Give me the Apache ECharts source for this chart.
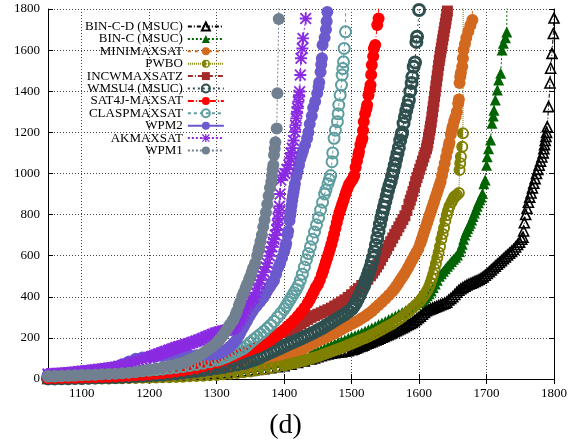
<!DOCTYPE html>
<html>
<head>
<meta charset="utf-8">
<script src="https://cdn.jsdelivr.net/npm/echarts@6/dist/echarts.min.js"></script>
<style>
  html, body { margin: 0; padding: 0; background: #fff; }
  #chart { width: 571px; height: 447px; }
</style>
</head>
<body>
<div id="chart"></div>
<script>
// tick values
var xTicks = [1100, 1200, 1300, 1400, 1500, 1600, 1700, 1800];

var names = ['BIN-C-D (MSUC)', 'BIN-C (MSUC)', 'MINIMAXSAT', 'PWBO', 'INCWMAXSATZ',
    'WMSU4 (MSUC)', 'SAT4J-MAXSAT', 'CLASPMAXSAT', 'WPM2', 'AKMAXSAT', 'WPM1'];

// [instances solved, time]
var binCD = [[1050,3],[1060,3],[1070,4],[1080,4],[1090,5],[1100,5],[1110,6],[1120,6],[1130,7],[1140,7],[1150,8],[1160,9],[1170,10],[1180,10],[1190,11],[1200,12],[1210,13],[1220,14],[1230,15],[1240,17],[1250,18],[1260,20],[1270,22],[1280,24],[1290,26],[1300,28],[1310,30],[1320,33],[1330,36],[1340,39],[1350,42],[1360,46],[1370,50],[1380,55],[1390,60],[1400,65],[1410,72],[1420,80],[1430,88],[1440,98],[1445,103],[1450,108],[1455,113],[1460,118],[1465,122],[1470,125],[1475,128],[1480,130],[1485,132],[1490,135],[1495,138],[1500,142],[1503,145],[1506,150],[1509,154],[1512,158],[1515,161],[1518,165],[1521,170],[1524,174],[1527,178],[1530,182],[1533,186],[1536,190],[1539,194],[1542,199],[1545,203],[1548,207],[1551,212],[1554,216],[1557,220],[1560,225],[1563,230],[1566,235],[1569,240],[1572,245],[1575,250],[1578,255],[1581,260],[1584,265],[1587,270],[1590,275],[1593,283],[1596,290],[1599,298],[1602,306],[1605,315],[1608,324],[1611,332],[1614,337],[1617,341],[1620,345],[1623,349],[1626,353],[1629,357],[1632,361],[1635,365],[1638,369],[1641,374],[1644,384],[1647,392],[1650,400],[1653,411],[1656,422],[1659,432],[1662,439],[1665,445],[1668,451],[1671,457],[1674,462],[1677,466],[1680,470],[1683,475],[1686,479],[1689,484],[1692,490],[1695,497],[1698,505],[1701,513],[1704,522],[1707,531],[1710,540],[1713,549],[1716,558],[1719,567],[1722,576],[1725,585],[1728,594],[1731,603],[1734,612],[1737,621],[1740,630],[1743,642],[1746,654],[1749,666],[1752,680],[1754,690],[1755,720],[1756,760],[1758,800],[1760,830],[1762,860],[1764,885],[1766,905],[1768,930],[1770,952],[1772,975],[1774,1000],[1776,1020],[1778,1040],[1780,1060],[1782,1080],[1784,1100],[1785,1120],[1786,1140],[1787,1160],[1788,1180],[1789,1200],[1790,1227],[1792,1325],[1794,1440],[1795,1512],[1797,1584],[1799,1681],[1800,1756],[1801,2600]];
var binC = [[1050,4],[1060,4],[1070,5],[1080,5],[1090,6],[1100,6],[1110,7],[1120,7],[1130,8],[1140,9],[1150,10],[1160,11],[1170,12],[1180,13],[1190,14],[1200,15],[1210,16],[1220,18],[1230,19],[1240,21],[1250,23],[1260,25],[1270,27],[1280,30],[1290,33],[1300,36],[1310,39],[1320,43],[1330,47],[1340,51],[1350,56],[1360,61],[1370,67],[1380,73],[1390,80],[1400,88],[1410,96],[1420,105],[1430,115],[1440,125],[1445,130],[1450,135],[1455,142],[1460,150],[1465,157],[1470,165],[1475,172],[1480,178],[1485,184],[1490,190],[1495,198],[1500,205],[1505,211],[1510,218],[1515,225],[1520,232],[1525,240],[1530,248],[1535,256],[1540,265],[1545,272],[1550,280],[1555,289],[1560,298],[1565,306],[1570,315],[1575,323],[1580,332],[1585,341],[1590,350],[1595,361],[1600,372],[1603,380],[1606,388],[1609,396],[1612,405],[1615,415],[1618,428],[1621,445],[1624,462],[1627,480],[1630,500],[1633,512],[1636,524],[1639,536],[1642,548],[1645,560],[1648,572],[1651,583],[1654,592],[1657,603],[1660,620],[1662,637],[1664,656],[1666,680],[1668,700],[1670,718],[1672,732],[1674,745],[1676,758],[1678,773],[1680,790],[1682,807],[1684,823],[1686,840],[1688,857],[1690,872],[1692,885],[1694,903],[1696,950],[1698,968],[1700,1040],[1701,1081],[1703,1120],[1706,1163],[1708,1244],[1710,1280],[1711,1308],[1713,1357],[1716,1406],[1718,1454],[1721,1487],[1723,1600],[1725,1633],[1728,1660],[1730,1688],[1731,2600]];
var minimax = [[1050,2],[1060,2],[1070,3],[1080,3],[1090,4],[1100,4],[1110,5],[1120,5],[1130,6],[1140,7],[1150,8],[1160,9],[1170,10],[1180,11],[1190,12],[1200,13],[1210,15],[1220,17],[1230,19],[1240,21],[1250,23],[1260,26],[1270,29],[1280,32],[1290,36],[1300,40],[1310,44],[1320,48],[1330,53],[1340,58],[1350,63],[1360,69],[1370,76],[1380,84],[1385,89],[1390,95],[1395,101],[1400,108],[1405,114],[1410,120],[1415,127],[1420,135],[1425,142],[1430,150],[1435,159],[1440,168],[1445,176],[1450,185],[1455,192],[1460,200],[1465,207],[1470,215],[1475,223],[1480,232],[1485,241],[1490,250],[1495,259],[1500,268],[1505,276],[1510,285],[1515,295],[1520,305],[1525,317],[1530,330],[1535,345],[1540,360],[1545,375],[1550,390],[1555,407],[1560,425],[1563,437],[1566,450],[1569,465],[1572,480],[1575,495],[1578,510],[1581,526],[1584,544],[1587,562],[1590,580],[1593,598],[1596,616],[1599,634],[1602,660],[1604,680],[1606,700],[1608,720],[1610,740],[1612,760],[1614,780],[1616,800],[1618,820],[1620,840],[1622,860],[1624,880],[1626,900],[1628,920],[1630,940],[1632,960],[1634,990],[1636,1020],[1638,1050],[1640,1080],[1642,1110],[1644,1135],[1645,1150],[1647,1190],[1649,1215],[1650,1230],[1652,1255],[1654,1275],[1656,1300],[1658,1340],[1659,1360],[1660,1440],[1661,1470],[1662,1490],[1664,1520],[1665,1560],[1666,1600],[1668,1630],[1670,1660],[1673,1690],[1676,1720],[1679,1746],[1680,2600]];
var pwbo = [[1050,1],[1060,1],[1070,1],[1080,2],[1090,2],[1100,2],[1110,2],[1120,3],[1130,3],[1140,3],[1150,4],[1160,4],[1170,5],[1180,5],[1190,6],[1200,6],[1210,7],[1220,8],[1230,9],[1240,10],[1250,11],[1260,13],[1270,14],[1280,16],[1290,18],[1300,20],[1310,23],[1320,26],[1330,29],[1340,33],[1350,37],[1360,42],[1370,47],[1380,53],[1390,59],[1400,66],[1405,70],[1410,74],[1415,78],[1420,82],[1425,86],[1430,90],[1435,95],[1440,100],[1445,105],[1450,110],[1455,116],[1460,122],[1465,128],[1470,134],[1475,140],[1480,146],[1485,152],[1490,158],[1495,165],[1500,172],[1505,179],[1510,186],[1515,193],[1520,200],[1525,207],[1530,215],[1535,223],[1540,232],[1545,241],[1550,250],[1555,259],[1560,268],[1565,279],[1570,290],[1575,302],[1580,315],[1585,330],[1590,345],[1595,360],[1600,375],[1603,387],[1606,400],[1609,414],[1612,430],[1615,450],[1617,468],[1619,488],[1621,510],[1623,535],[1625,562],[1627,590],[1629,615],[1631,645],[1633,680],[1635,705],[1637,735],[1639,770],[1641,797],[1643,820],[1645,840],[1648,860],[1650,872],[1652,885],[1654,890],[1656,895],[1659,905],[1660,1017],[1661,1050],[1662,1081],[1664,1130],[1665,1195],[1666,2600]];
var incw = [[1050,3],[1060,3],[1070,4],[1080,4],[1090,5],[1100,5],[1110,6],[1120,7],[1130,8],[1140,9],[1150,10],[1160,11],[1170,12],[1180,14],[1190,16],[1200,18],[1210,20],[1220,23],[1230,26],[1240,29],[1250,33],[1260,37],[1270,42],[1280,47],[1290,51],[1300,55],[1310,65],[1320,75],[1330,90],[1340,105],[1350,125],[1360,145],[1370,165],[1380,185],[1390,205],[1400,225],[1405,234],[1410,243],[1415,250],[1420,258],[1425,269],[1430,280],[1435,290],[1440,300],[1445,308],[1450,315],[1455,322],[1460,330],[1465,337],[1470,345],[1475,355],[1480,365],[1485,375],[1490,385],[1495,397],[1500,410],[1505,425],[1510,440],[1515,455],[1520,470],[1524,486],[1528,502],[1531,515],[1534,530],[1537,545],[1540,560],[1543,578],[1546,596],[1549,614],[1552,632],[1555,650],[1558,668],[1561,686],[1564,704],[1567,722],[1570,740],[1573,758],[1576,776],[1579,794],[1582,820],[1585,850],[1587,870],[1589,890],[1591,912],[1593,935],[1595,960],[1597,980],[1599,1000],[1601,1020],[1603,1040],[1605,1060],[1607,1080],[1609,1100],[1611,1120],[1612,1135],[1613,1150],[1614,1170],[1615,1190],[1616,1210],[1617,1230],[1618,1250],[1619,1275],[1620,1300],[1621,1325],[1622,1350],[1623,1375],[1624,1400],[1625,1425],[1626,1450],[1627,1475],[1628,1500],[1629,1525],[1630,1550],[1631,1570],[1632,1590],[1633,1610],[1634,1630],[1635,1650],[1636,1670],[1637,1690],[1638,1710],[1639,1730],[1640,1750],[1641,1770],[1642,1790],[1643,1810],[1644,1830]];
var wmsu4 = [[1050,3],[1060,3],[1070,4],[1080,4],[1090,5],[1100,5],[1110,6],[1120,7],[1130,8],[1140,9],[1150,10],[1160,11],[1170,12],[1180,14],[1190,16],[1200,18],[1210,20],[1220,22],[1230,25],[1240,28],[1250,31],[1260,35],[1270,39],[1280,43],[1290,48],[1300,53],[1310,58],[1320,64],[1330,70],[1340,77],[1345,82],[1350,88],[1355,94],[1360,100],[1365,107],[1370,115],[1375,122],[1380,130],[1385,137],[1390,145],[1395,152],[1400,160],[1405,167],[1410,175],[1415,182],[1420,190],[1425,197],[1430,205],[1435,212],[1440,220],[1445,228],[1450,237],[1455,246],[1460,255],[1465,265],[1470,275],[1475,285],[1480,295],[1485,305],[1490,315],[1495,327],[1500,340],[1503,354],[1506,370],[1509,388],[1512,408],[1515,430],[1518,450],[1520,470],[1522,487],[1524,505],[1526,525],[1528,545],[1530,568],[1532,592],[1534,620],[1536,652],[1538,686],[1540,720],[1542,753],[1544,783],[1546,810],[1548,837],[1550,863],[1552,890],[1554,917],[1556,940],[1558,960],[1560,987],[1562,1013],[1564,1040],[1566,1070],[1568,1097],[1570,1125],[1572,1160],[1574,1187],[1575,1200],[1577,1244],[1579,1275],[1581,1305],[1583,1330],[1585,1357],[1587,1400],[1589,1440],[1590,1470],[1592,1519],[1594,1540],[1596,1640],[1597,1665],[1600,1795],[1601,2600]];
var sat4j = [[1050,4],[1060,5],[1070,5],[1080,6],[1090,6],[1100,7],[1110,8],[1120,9],[1130,10],[1140,11],[1150,12],[1160,14],[1170,16],[1180,18],[1190,20],[1200,22],[1210,25],[1220,28],[1230,32],[1240,36],[1250,41],[1260,47],[1270,54],[1280,62],[1290,71],[1300,82],[1305,87],[1310,93],[1315,99],[1320,105],[1325,111],[1330,118],[1335,124],[1340,130],[1345,136],[1350,142],[1355,148],[1360,155],[1365,162],[1370,170],[1375,180],[1380,190],[1385,202],[1390,215],[1395,227],[1400,240],[1405,255],[1410,270],[1415,287],[1420,305],[1425,325],[1430,345],[1435,370],[1438,385],[1441,405],[1444,425],[1447,445],[1450,460],[1453,482],[1456,508],[1458,528],[1460,550],[1462,570],[1464,590],[1466,610],[1468,632],[1470,655],[1472,680],[1474,705],[1476,733],[1478,760],[1480,787],[1482,810],[1484,830],[1486,850],[1488,870],[1490,890],[1492,910],[1494,928],[1496,945],[1498,955],[1500,965],[1502,975],[1504,990],[1506,1030],[1508,1060],[1510,1090],[1511,1106],[1513,1140],[1515,1160],[1516,1171],[1517,1210],[1518,1252],[1520,1290],[1522,1315],[1523,1333],[1525,1380],[1527,1410],[1528,1430],[1529,1480],[1530,1527],[1532,1570],[1533,1608],[1535,1625],[1538,1722],[1540,1754],[1541,2600]];
var clasp = [[1050,14],[1060,15],[1070,16],[1080,18],[1090,19],[1100,21],[1110,23],[1120,24],[1130,26],[1140,28],[1150,30],[1160,32],[1170,34],[1180,37],[1190,40],[1200,43],[1210,46],[1220,49],[1230,53],[1240,57],[1250,61],[1260,66],[1270,71],[1280,77],[1290,84],[1300,92],[1305,97],[1310,103],[1315,109],[1320,117],[1325,125],[1330,133],[1335,141],[1340,150],[1345,162],[1350,178],[1355,192],[1360,205],[1365,218],[1370,232],[1375,247],[1380,262],[1385,280],[1390,300],[1395,320],[1400,340],[1403,356],[1406,372],[1409,388],[1412,404],[1415,420],[1418,436],[1421,455],[1424,480],[1427,510],[1430,545],[1433,580],[1436,610],[1439,643],[1442,680],[1445,715],[1448,750],[1451,785],[1454,822],[1457,860],[1460,900],[1462,919],[1465,950],[1467,970],[1469,990],[1471,1057],[1472,1100],[1474,1171],[1476,1210],[1479,1252],[1480,1290],[1481,1333],[1483,1381],[1485,1430],[1486,1479],[1487,1510],[1488,1543],[1489,1608],[1491,1689],[1492,2600]];
var wpm2 = [[1050,22],[1060,25],[1070,27],[1080,30],[1090,33],[1100,36],[1110,40],[1120,44],[1130,48],[1140,53],[1150,60],[1160,72],[1170,85],[1180,98],[1190,105],[1200,108],[1210,110],[1220,111],[1230,112],[1240,113],[1250,114],[1260,115],[1270,116],[1280,117],[1290,118],[1300,120],[1305,127],[1310,135],[1315,145],[1320,158],[1325,175],[1330,195],[1333,213],[1335,225],[1338,243],[1340,255],[1343,273],[1345,285],[1348,303],[1350,315],[1353,330],[1355,340],[1358,352],[1360,360],[1363,372],[1365,380],[1368,392],[1370,400],[1373,418],[1375,430],[1378,445],[1380,455],[1383,470],[1385,481],[1388,510],[1391,540],[1394,563],[1397,590],[1400,620],[1402,645],[1403,660],[1405,700],[1406,720],[1408,770],[1409,795],[1410,820],[1411,845],[1412,870],[1413,890],[1414,910],[1415,930],[1416,950],[1418,985],[1420,1010],[1422,1040],[1424,1070],[1426,1090],[1428,1110],[1431,1138],[1434,1170],[1436,1200],[1438,1240],[1441,1280],[1443,1320],[1446,1350],[1449,1390],[1451,1420],[1452,1444],[1454,1494],[1455,1530],[1456,1560],[1457,1625],[1460,1660],[1462,1700],[1463,1740],[1464,1785],[1465,2600]];
var akmax = [[1050,24],[1055,25],[1060,26],[1065,27],[1070,28],[1075,29],[1080,31],[1085,32],[1090,34],[1095,36],[1100,38],[1105,39],[1110,41],[1115,43],[1120,45],[1125,47],[1130,49],[1135,51],[1140,53],[1145,55],[1150,58],[1155,62],[1160,66],[1165,70],[1170,75],[1175,80],[1180,85],[1185,90],[1190,95],[1195,100],[1200,105],[1203,108],[1205,111],[1208,114],[1210,117],[1213,120],[1215,123],[1218,126],[1220,129],[1223,132],[1225,135],[1228,138],[1230,141],[1233,144],[1235,147],[1238,150],[1240,153],[1243,156],[1245,158],[1248,161],[1250,163],[1253,166],[1255,168],[1258,171],[1260,173],[1263,177],[1265,179],[1268,183],[1270,185],[1273,189],[1275,191],[1278,195],[1280,198],[1283,202],[1285,205],[1288,209],[1290,212],[1293,216],[1295,218],[1298,222],[1300,225],[1303,228],[1305,230],[1308,232],[1310,234],[1313,236],[1315,238],[1318,240],[1320,242],[1323,246],[1325,250],[1328,258],[1330,267],[1333,281],[1335,291],[1338,305],[1340,320],[1343,340],[1345,355],[1348,368],[1350,380],[1353,392],[1355,400],[1358,420],[1360,440],[1363,465],[1365,481],[1368,505],[1370,520],[1373,545],[1375,563],[1378,600],[1380,620],[1382,643],[1384,665],[1385,680],[1387,700],[1389,725],[1390,750],[1391,780],[1392,810],[1393,840],[1394,900],[1395,968],[1398,990],[1401,1000],[1404,1020],[1407,1041],[1409,1073],[1410,1100],[1412,1123],[1414,1160],[1416,1203],[1417,1235],[1418,1268],[1419,1300],[1420,1317],[1421,1349],[1422,1380],[1423,1398],[1424,1479],[1425,1560],[1427,1608],[1428,1657],[1432,1754],[1433,2600]];
var wpm1 = [[1050,14],[1060,15],[1070,16],[1080,17],[1090,18],[1100,19],[1110,20],[1120,21],[1130,23],[1140,24],[1150,26],[1160,28],[1170,30],[1180,34],[1190,39],[1200,45],[1210,51],[1220,57],[1230,63],[1240,70],[1245,74],[1250,79],[1255,85],[1260,92],[1265,100],[1270,108],[1275,117],[1280,127],[1285,138],[1290,150],[1295,162],[1300,175],[1303,187],[1305,195],[1308,207],[1310,215],[1313,230],[1315,240],[1318,255],[1320,265],[1323,280],[1325,290],[1328,312],[1330,330],[1333,357],[1335,375],[1338,402],[1340,420],[1343,444],[1345,460],[1348,484],[1350,500],[1352,520],[1354,540],[1357,563],[1360,600],[1362,625],[1363,640],[1365,670],[1367,700],[1369,740],[1371,773],[1373,810],[1375,850],[1377,890],[1379,930],[1381,960],[1382,990],[1383,1020],[1384,1041],[1385,1090],[1386,1120],[1387,1152],[1389,1219],[1390,1390],[1392,1751],[1393,2600]];

var seriesData = [binCD, binC, minimax, pwbo, incw, wmsu4, sat4j, clasp, wpm2, akmax, wpm1];

// gnuplot-like point types
var halfCircle = 'path://M5,0A5,5 0 1,1 5,10A5,5 0 1,1 5,0Z M5,1.6L5,8.4A3.4,3.4 0 0,0 5,1.6Z';
var asterisk = 'path://M0,4.2H10V5.8H0Z M4.2,0H5.8V10H4.2Z M8.9,0L10,1.1L1.1,10L0,8.9Z M0,1.1L1.1,0L10,8.9L8.9,10Z';

var styles = [
    {color: '#000000', symbol: 'triangle', size: 10, fill: 'rgba(0,0,0,0)', border: 1.6, dash: [4, 2, 1, 2]},
    {color: '#006400', symbol: 'triangle', size: 11, fill: '#006400', border: 0, dash: [2, 2]},
    {color: '#d2691e', symbol: 'circle', size: 12, fill: '#d2691e', border: 0, dash: [3, 4]},
    {color: '#808000', symbol: halfCircle, size: 12, fill: '#808000', border: 0, dash: [1, 1]},
    {color: '#a52a2a', symbol: 'rect', size: 11, fill: '#a52a2a', border: 0, dash: [5, 2, 1, 2]},
    {color: '#2f4f4f', symbol: 'circle', size: 11, fill: 'rgba(0,0,0,0)', border: 3, dash: [2, 3]},
    {color: '#ff0000', symbol: 'circle', size: 12, fill: '#ff0000', border: 0, dash: [6, 2, 1, 2]},
    {color: '#5f9ea0', symbol: 'circle', size: 11, fill: 'rgba(0,0,0,0)', border: 2, dash: [3, 3]},
    {color: '#6a5acd', symbol: 'circle', size: 12, fill: '#6a5acd', border: 0, dash: 'solid'},
    {color: '#8a2be2', symbol: asterisk, size: 12, fill: '#8a2be2', border: 0, dash: [2, 2]},
    {color: '#708090', symbol: 'circle', size: 12, fill: '#708090', border: 0, dash: [2, 2]}
];

var series = [];
for (var i = 0; i < names.length; i++) {
    var s = styles[i];
    series.push({
        name: names[i],
        type: 'line',
        data: seriesData[i],
        clip: true,
        silent: true,
        symbol: s.symbol,
        symbolSize: s.size,
        showAllSymbol: true,
        lineStyle: {color: s.color, width: 1, type: s.dash},
        itemStyle: {color: s.fill, borderColor: s.color, borderWidth: s.border},
        emphasis: {disabled: true}
    });
}

var serif = 'Liberation Serif';
var gridLine = {show: true, lineStyle: {color: '#444', width: 1, type: [1, 2]}};
var plain = function (v) { return String(v); };

var chart = echarts.init(document.getElementById('chart'), null, {renderer: 'canvas'});
chart.setOption({
    animation: false,
    backgroundColor: '#fff',
    title: {
        text: '(d)',
        left: 'center',
        top: 407,
        textStyle: {fontFamily: serif, fontSize: 28, fontWeight: 'normal', color: '#000'}
    },
    legend: {
        orient: 'vertical',
        left: 80,
        top: 15,
        align: 'right',
        itemWidth: 36,
        itemHeight: 10,
        itemGap: -0.6,
        selectedMode: false,
        data: names,
        textStyle: {fontFamily: serif, fontSize: 13, color: '#000', width: 84, align: 'right', lineHeight: 13}
    },
    grid: {left: 48, right: 17, top: 9, bottom: 68},
    xAxis: [{
        type: 'value',
        min: 1050,
        max: 1800,
        axisLine: {lineStyle: {color: '#000', width: 1}},
        axisTick: {inside: true, length: 5, customValues: xTicks, lineStyle: {color: '#000'}},
        axisLabel: {customValues: xTicks, formatter: plain, fontFamily: serif, fontSize: 13, color: '#000', margin: 8},
        splitLine: gridLine
    }, {
        type: 'value',
        position: 'top',
        min: 1050,
        max: 1800,
        axisLine: {lineStyle: {color: '#000', width: 1}},
        axisTick: {inside: true, length: 5, customValues: xTicks, lineStyle: {color: '#000'}},
        axisLabel: {show: false},
        splitLine: {show: false}
    }],
    yAxis: [{
        type: 'value',
        min: 0,
        max: 1800,
        interval: 200,
        axisLine: {show: true, lineStyle: {color: '#000', width: 1}},
        axisTick: {show: true, inside: true, length: 5, lineStyle: {color: '#000'}},
        axisLabel: {formatter: plain, fontFamily: serif, fontSize: 13, color: '#000', margin: 8},
        splitLine: gridLine
    }, {
        type: 'value',
        position: 'right',
        min: 0,
        max: 1800,
        interval: 200,
        axisLine: {show: true, lineStyle: {color: '#000', width: 1}},
        axisTick: {show: true, inside: true, length: 5, lineStyle: {color: '#000'}},
        axisLabel: {show: false},
        splitLine: {show: false}
    }],
    series: series
});
</script>
</body>
</html>
